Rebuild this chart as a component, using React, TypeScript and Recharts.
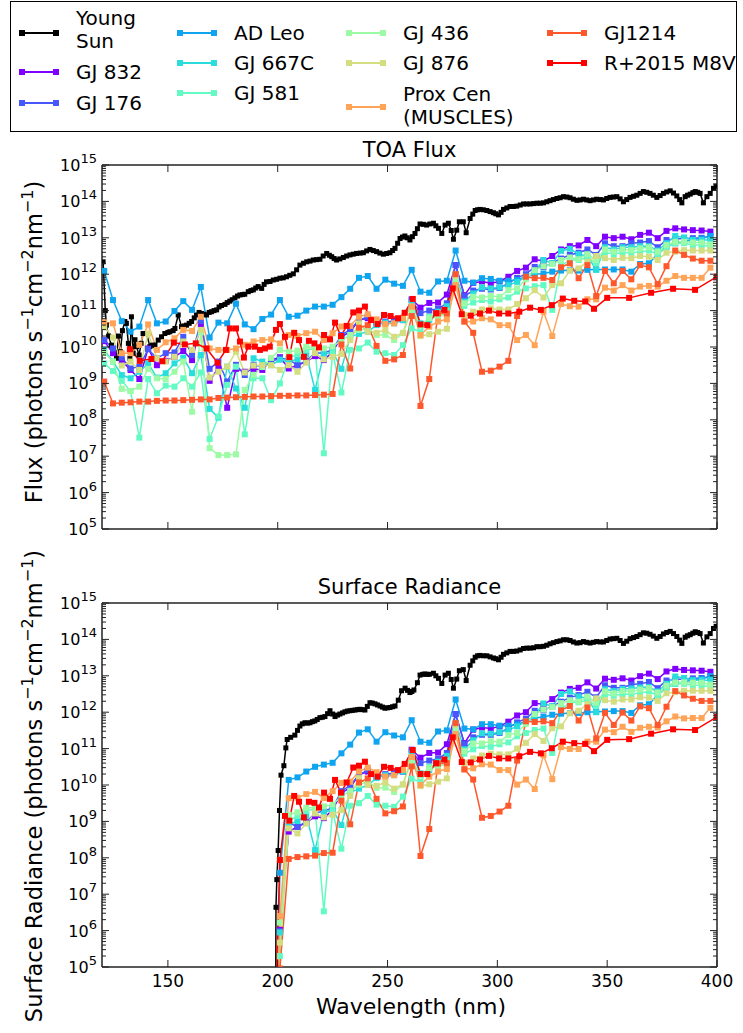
import { LineChart, Line, XAxis, YAxis } from 'recharts'

const FONT = 'DejaVu Sans, sans-serif'

// wavelength grid (nm) of the binned stellar spectra
const gridWl = [
    121, 125, 129, 133, 137, 141, 145, 149, 153, 157, 161, 165, 169, 173, 177, 181, 185, 189, 193, 197,
    201, 205, 209, 213, 217, 221, 225, 229, 233, 237, 241, 245, 249, 253, 257, 261, 265, 269, 273, 277,
    281, 285, 289, 293, 297, 301, 305, 309, 313, 317, 321, 325, 329, 333, 337, 341, 345, 349, 353, 357,
    361, 365, 369, 373, 377, 381, 385, 389, 393, 397,
]
// surface values start at the 197 nm bin
const surfWl = gridWl.slice(19)

// all fluxes below are log10(photons s^-1 cm^-2 nm^-1)
const youngSunToa: [number, number][] = [
    [120.5, 12.34], [121.5, 11.0], [122, 10.6], [123, 10.3], [124.3, 10.05], [125.5, 9.85], [126.6, 9.69],
    [127.5, 10.3], [128.4, 9.87], [129.3, 10.45], [130.4, 10.7], [131.1, 10.65], [132, 10.1], [132.7, 9.69],
    [133.4, 10.83], [134.2, 9.83], [135, 10.2], [135.7, 10.01], [136.9, 9.78], [137.8, 10.1], [138.7, 10.37],
    [140.3, 10.37], [141.8, 10.01], [143, 10.05], [144.1, 10.05], [145.6, 10.19], [147.1, 10.28], [148.6, 10.37],
    [150, 10.4], [150.9, 10.42], [152.4, 10.45], [153.2, 10.51], [154.7, 10.88], [156.2, 10.56], [157.5, 10.58],
    [158.5, 10.6], [159.7, 10.65], [160.8, 10.7], [162, 10.8], [163, 10.88], [164.2, 10.95], [165.3, 10.92],
    [166.5, 10.9], [167.6, 10.88], [168.8, 10.95], [169.9, 10.97], [171, 11.0], [172.2, 11.02], [173.3, 11.1],
    [174.4, 11.14], [176, 11.17], [177, 11.22], [178.2, 11.26], [179.3, 11.3], [180.5, 11.35], [181.7, 11.4],
    [182.8, 11.43], [184, 11.44], [185, 11.45], [186.6, 11.52], [187.8, 11.55], [188.9, 11.57], [190, 11.62],
    [191.1, 11.66], [192.7, 11.61], [193.8, 11.72], [194.9, 11.79], [196.5, 11.8], [198, 11.84], [199.5, 11.86],
    [201, 11.89], [202.5, 11.9], [204, 11.93], [205.5, 11.97], [207.1, 12.01], [208.6, 12.12], [210.1, 12.25],
    [211.7, 12.3], [213.2, 12.34], [214.7, 12.36], [216.2, 12.39], [217.7, 12.4], [219.2, 12.41], [220.7, 12.5],
    [222.3, 12.57], [223.5, 12.52], [224.6, 12.48], [225.7, 12.43], [226.8, 12.39], [228.3, 12.42], [229.9, 12.46],
    [231.4, 12.5], [232.9, 12.53], [234.4, 12.55], [235.9, 12.57], [237.5, 12.58], [239, 12.59], [240.5, 12.64],
    [242, 12.68], [243.5, 12.65], [245, 12.62], [246.5, 12.58], [248.1, 12.55], [249.6, 12.57], [251.1, 12.59],
    [252.3, 12.65], [253.4, 12.71], [254.6, 12.85], [255.7, 12.98], [256.8, 13.02], [257.9, 13.05], [259, 13.0],
    [260.2, 12.94], [261.3, 13.03], [262.5, 13.12], [263.6, 13.25], [264.8, 13.38], [266.3, 13.37], [267.8, 13.35],
    [269.3, 13.38], [270.9, 13.4], [272, 13.33], [273.2, 13.26], [274.7, 13.12], [276.2, 13.35], [277.7, 13.4],
    [279, 13.2], [280, 12.96], [281.5, 13.21], [282.7, 13.44], [284.5, 13.44], [285.8, 13.14], [287.6, 13.53],
    [288.8, 13.65], [289.9, 13.75], [291, 13.77], [292.1, 13.78], [293.6, 13.77], [295.2, 13.75], [296.7, 13.72],
    [298.2, 13.69], [299.3, 13.66], [300.5, 13.63], [301.7, 13.7], [302.8, 13.78], [304.3, 13.82], [305.8, 13.86],
    [307.3, 13.86], [308.8, 13.87], [310.4, 13.9], [311.9, 13.93], [313.4, 13.93], [314.9, 13.93], [316.5, 13.94],
    [318, 13.95], [319.5, 13.95], [321, 13.96], [322.5, 13.99], [324, 14.02], [325.5, 14.05], [327.1, 14.08],
    [328.6, 14.1], [330.1, 14.13], [331.6, 14.12], [333.1, 14.1], [334.6, 14.06], [336.2, 14.03], [337.7, 14.04],
    [339.2, 14.06], [340.7, 14.04], [342.2, 14.02], [343.7, 14.04], [345.2, 14.06], [346.8, 14.05], [348.3, 14.04],
    [349.8, 14.08], [351.3, 14.11], [352.8, 14.12], [354.4, 14.13], [355.9, 14.07], [357.4, 13.99], [358.9, 14.05],
    [360.4, 14.11], [362, 14.14], [363.5, 14.17], [365, 14.22], [366.5, 14.27], [368, 14.25], [369.5, 14.22],
    [371, 14.17], [372.6, 14.11], [374.1, 14.16], [375.6, 14.22], [377.1, 14.26], [378.7, 14.29], [380.2, 14.23],
    [381.7, 14.15], [383, 14.05], [384, 13.96], [385.5, 14.13], [386.6, 14.17], [387.8, 14.2], [389, 14.24],
    [390.1, 14.27], [391.2, 14.25], [392.3, 14.22], [393.8, 13.96], [395.4, 14.13], [396.9, 14.22], [398.4, 14.36],
    [399.6, 14.42],
]
const youngSunSurf: [number, number][] = [
    [198.8, -2], [199.2, 6.64], [199.6, 7.4], [200.2, 8.2], [200.8, 9.3], [201.5, 10.27], [202.8, 10.53],
    [203.7, 11.02], [204.3, 11.25], [205.9, 11.31], [207.8, 11.37], [209, 11.5], [210.1, 11.62], [211.2, 11.68],
    [212.4, 11.71], [213.5, 11.7], [214.7, 11.71], [215.8, 11.74], [216.9, 11.76], [218, 11.8], [219.2, 11.85],
    [220.3, 11.86], [221.5, 11.88], [222.7, 11.96], [223.8, 12.04], [225, 11.95], [226.1, 11.88], [227.2, 11.92],
    [228.3, 11.95], [229.5, 11.98], [230.6, 12.01], [231.7, 12.03], [232.9, 12.04], [234, 12.05], [235.2, 12.06],
    [236.3, 12.07], [237.4, 12.08], [238.5, 12.07], [239.7, 12.06], [240.8, 12.16], [242, 12.26], [243.1, 12.25],
    [244.3, 12.23], [245.4, 12.2], [246.6, 12.17], [247.7, 12.14], [248.8, 12.11], [250, 12.12], [251.1, 12.13],
    [252.3, 12.15], [253.4, 12.17], [254.9, 12.33], [256.4, 12.59], [258, 12.66], [259.1, 12.6], [260.2, 12.54],
    [261.1, 12.57], [262, 12.61], [263.6, 12.81], [264.8, 13.02], [266, 13.04], [267, 13.05], [268, 13.04],
    [269, 13.04], [270.9, 13.07], [272, 13.0], [273.2, 12.93], [274.7, 12.79], [276.2, 13.02], [277.7, 13.07],
    [279, 12.9], [280, 12.66], [281.5, 12.91], [282.7, 13.14], [284.5, 13.17], [285.8, 12.87], [287.6, 13.29],
    [288.8, 13.41], [289.9, 13.51], [291, 13.55], [292.1, 13.56], [293.6, 13.55], [295.2, 13.55], [296.7, 13.52],
    [298.2, 13.49], [299.3, 13.47], [300.5, 13.44], [301.7, 13.51], [302.8, 13.59], [304.3, 13.63], [305.8, 13.67],
    [307.3, 13.67], [308.8, 13.68], [310.4, 13.71], [311.9, 13.75], [313.4, 13.76], [314.9, 13.76], [316.5, 13.77],
    [318, 13.8], [319.5, 13.8], [321, 13.81], [322.5, 13.84], [324, 13.88], [325.5, 13.91], [327.1, 13.94],
    [328.6, 13.96], [330.1, 13.99], [331.6, 13.99], [333.1, 13.97], [334.6, 13.93], [336.2, 13.9], [337.7, 13.91],
    [339.2, 13.94], [340.7, 13.92], [342.2, 13.9], [343.7, 13.92], [345.2, 13.94], [346.8, 13.93], [348.3, 13.93],
    [349.8, 13.97], [351.3, 14.01], [352.8, 14.02], [354.4, 14.03], [355.9, 13.97], [357.4, 13.89], [358.9, 13.95],
    [360.4, 14.02], [362, 14.05], [363.5, 14.08], [365, 14.13], [366.5, 14.18], [368, 14.17], [369.5, 14.14],
    [371, 14.09], [372.6, 14.03], [374.1, 14.08], [375.6, 14.15], [377.1, 14.19], [378.7, 14.22], [380.2, 14.16],
    [381.7, 14.08], [383, 13.98], [384, 13.89], [385.5, 14.06], [386.6, 14.1], [387.8, 14.13], [389, 14.17],
    [390.1, 14.21], [391.2, 14.19], [392.3, 14.16], [393.8, 13.9], [395.4, 14.07], [396.9, 14.16], [398.4, 14.3],
    [399.6, 14.36],
]

const gj832Toa = [
    10.16, 9.83, 9.62, 9.37, 9.12, 9.96, 9.5, 9.62, 9.73, 9.89, 9.64, 10.62, 9.07, 9.43, 8.33, 9.4, 9.32, 9.4, 9.37, 9.64,
    9.72, 9.41, 9.5, 9.6, 9.75, 9.64, 9.87, 10.28, 10.42, 10.74, 10.79, 10.67, 10.67, 10.72, 10.74, 11.31, 11.08, 11.21, 11.22, 11.44,
    12.25, 11.42, 11.76, 11.8, 11.75, 11.8, 11.93, 12.09, 12.18, 12.41, 12.36, 12.5, 12.68, 12.77, 12.79, 12.94, 12.77, 13.03, 12.99, 13.03,
    12.96, 13.08, 13.14, 12.99, 13.19, 13.26, 13.23, 13.21, 13.2, 13.17,
]
const gj832Surf = [
    -3, 6.02, 8.72, 8.85, 8.97, 9.14, 9.09, 9.32, 9.78, 9.93, 10.28, 10.37, 10.26, 10.27, 10.34, 10.37, 10.97, 10.75, 10.88, 10.89,
    11.12, 11.95, 11.15, 11.52, 11.58, 11.55, 11.61, 11.74, 11.91, 12.0, 12.25, 12.21, 12.36, 12.54, 12.64, 12.67, 12.82, 12.65, 12.92, 12.89,
    12.93, 12.87, 12.99, 13.06, 12.91, 13.12, 13.19, 13.16, 13.15, 13.14, 13.11,
]
const gj176Toa = [
    10.19, 9.96, 9.71, 9.41, 9.46, 9.94, 9.69, 9.83, 9.85, 10.28, 9.78, 10.71, 9.4, 9.6, 9.05, 9.51, 9.23, 9.51, 9.46, 9.6,
    9.69, 9.66, 9.5, 9.62, 9.83, 9.84, 9.92, 10.33, 10.48, 10.74, 10.83, 10.63, 10.7, 10.7, 10.74, 11.29, 10.93, 11.0, 11.05, 11.2,
    12.25, 11.4, 11.55, 11.6, 11.58, 11.62, 11.75, 11.9, 12.0, 12.2, 12.2, 12.3, 12.43, 12.53, 12.59, 12.68, 12.53, 12.85, 12.77, 12.77,
    12.85, 12.87, 12.91, 12.74, 12.94, 12.97, 12.98, 12.99, 13.0, 13.03,
]
const gj176Surf = [
    -3, 5.99, 8.97, 8.85, 8.99, 9.22, 9.29, 9.37, 9.83, 9.99, 10.28, 10.41, 10.22, 10.3, 10.32, 10.37, 10.95, 10.6, 10.67, 10.72,
    10.88, 11.95, 11.13, 11.31, 11.38, 11.38, 11.43, 11.56, 11.72, 11.82, 12.04, 12.05, 12.16, 12.29, 12.4, 12.47, 12.56, 12.41, 12.74, 12.67,
    12.67, 12.76, 12.78, 12.83, 12.66, 12.87, 12.9, 12.91, 12.93, 12.94, 12.97,
]
const adLeoToa = [
    12.09, 11.29, 10.71, 10.42, 10.56, 11.29, 10.65, 10.7, 10.99, 11.26, 11.02, 11.65, 10.26, 10.67, 10.65, 11.19, 10.62, 10.49, 10.77, 10.89,
    11.29, 10.83, 10.86, 11.0, 11.11, 11.11, 11.16, 11.37, 11.6, 11.9, 11.95, 11.6, 11.85, 11.74, 11.68, 12.12, 11.52, 11.49, 11.8, 11.82,
    12.65, 11.82, 11.77, 11.89, 11.87, 11.82, 11.82, 11.84, 11.93, 12.0, 12.02, 12.07, 12.1, 12.11, 12.1, 12.12, 12.13, 12.13, 12.13, 12.13,
    12.07, 12.28, 12.3, 12.55, 12.75, 12.85, 12.9, 12.95, 12.98, 13.05,
]
const adLeoSurf = [
    -3, 7.59, 10.14, 10.21, 10.37, 10.5, 10.56, 10.61, 10.87, 11.11, 11.44, 11.53, 11.19, 11.45, 11.36, 11.31, 11.78, 11.19, 11.16, 11.47,
    11.5, 12.35, 11.55, 11.53, 11.67, 11.67, 11.63, 11.63, 11.66, 11.75, 11.84, 11.87, 11.93, 11.96, 11.98, 11.98, 12.0, 12.01, 12.02, 12.03,
    12.03, 11.98, 12.19, 12.22, 12.47, 12.68, 12.78, 12.83, 12.89, 12.92, 12.99,
]
const gj667cToa = [
    9.92, 9.6, 9.23, 9.14, 9.32, 9.55, 9.16, 9.28, 9.55, 9.71, 9.28, 9.78, 8.3, 8.06, 9.46, 8.86, 8.33, 9.69, 9.6, 9.5,
    9.65, 9.6, 9.66, 9.8, 8.82, 9.8, 9.87, 9.4, 10.28, 10.36, 10.42, 10.6, 10.67, 10.65, 10.74, 11.2, 10.65, 10.74, 10.97, 11.12,
    12.0, 11.25, 11.47, 11.64, 11.61, 11.64, 11.7, 11.79, 11.93, 12.07, 12.39, 12.3, 12.64, 12.7, 12.55, 12.5, 12.12, 12.74, 12.68, 12.74,
    12.74, 12.77, 12.77, 12.65, 12.85, 13.05, 13.01, 12.94, 12.94, 12.94,
]
const gj667cSurf = [
    -3, 5.95, 8.91, 9.01, 9.17, 8.21, 9.25, 9.32, 8.9, 9.79, 9.9, 10.0, 10.19, 10.27, 10.27, 10.37, 10.86, 10.32, 10.41, 10.64,
    10.8, 11.7, 10.98, 11.23, 11.42, 11.41, 11.45, 11.51, 11.61, 11.75, 11.91, 12.24, 12.16, 12.5, 12.57, 12.43, 12.38, 12.0, 12.63, 12.58,
    12.64, 12.65, 12.68, 12.69, 12.57, 12.78, 12.98, 12.94, 12.88, 12.88, 12.88,
]
const gj581Toa = [
    9.55, 9.34, 9.07, 8.79, 7.51, 9.12, 8.73, 8.94, 8.91, 9.14, 8.91, 9.3, 7.47, 8.09, 8.96, 9.46, 7.6, 9.14, 9.14, 8.54,
    9.0, 9.7, 9.8, 9.92, 9.96, 7.08, 9.83, 8.75, 9.92, 9.96, 10.12, 9.87, 9.83, 9.78, 10.05, 10.51, 10.42, 10.83, 10.92, 11.0,
    11.85, 11.13, 11.22, 11.29, 11.25, 11.31, 11.36, 11.52, 11.61, 11.67, 11.7, 11.02, 12.22, 12.39, 12.39, 12.45, 12.3, 12.6, 12.55, 12.6,
    12.58, 12.62, 12.65, 12.55, 12.74, 12.85, 12.85, 12.8, 12.8, 12.76,
]
const gj581Surf = [
    -3, 5.3, 9.01, 9.15, 9.29, 9.35, 6.53, 9.28, 8.25, 9.43, 9.5, 9.7, 9.46, 9.43, 9.4, 9.68, 10.17, 10.09, 10.5, 10.59,
    10.68, 11.55, 10.86, 10.98, 11.07, 11.05, 11.12, 11.17, 11.34, 11.43, 11.51, 11.55, 10.88, 12.08, 12.26, 12.27, 12.33, 12.18, 12.49, 12.45,
    12.5, 12.49, 12.53, 12.57, 12.47, 12.67, 12.78, 12.78, 12.74, 12.74, 12.7,
]
const gj436Toa = [
    9.85, 9.6, 8.85, 8.79, 8.91, 9.4, 9.14, 9.12, 9.32, 9.6, 8.22, 10.4, 7.22, 7.03, 7.03, 7.05, 8.82, 9.23, 9.45, 9.7,
    9.92, 9.87, 9.9, 10.01, 9.98, 9.96, 10.01, 10.19, 10.33, 10.47, 10.51, 10.33, 10.33, 10.19, 10.38, 11.02, 10.6, 10.79, 10.83, 10.92,
    11.85, 11.2, 11.38, 11.36, 11.4, 11.38, 11.56, 11.61, 11.86, 12.11, 12.22, 12.28, 12.39, 12.46, 12.41, 12.55, 12.39, 12.68, 12.62, 12.68,
    12.66, 12.71, 12.74, 12.62, 12.8, 12.89, 12.89, 12.87, 12.87, 12.82,
]
const gj436Surf = [
    -3, 6.22, 9.18, 9.25, 9.38, 9.37, 9.41, 9.46, 9.69, 9.84, 10.01, 10.09, 9.92, 9.93, 9.81, 10.01, 10.68, 10.27, 10.46, 10.5,
    10.6, 11.55, 10.93, 11.14, 11.14, 11.2, 11.19, 11.37, 11.43, 11.68, 11.95, 12.07, 12.14, 12.25, 12.33, 12.29, 12.43, 12.27, 12.57, 12.52,
    12.58, 12.57, 12.62, 12.66, 12.54, 12.73, 12.82, 12.82, 12.81, 12.81, 12.76,
]
const gj876Toa = [
    10.56, 10.26, 9.49, 9.6, 9.37, 10.37, 9.69, 9.6, 9.73, 10.15, 9.92, 10.47, 9.16, 9.32, 9.46, 9.87, 9.3, 9.49, 9.5, 9.5,
    9.37, 9.5, 9.32, 9.57, 9.83, 9.66, 9.73, 9.81, 10.19, 10.65, 10.42, 10.39, 10.47, 10.28, 10.39, 11.11, 10.3, 10.35, 10.42, 10.5,
    11.95, 10.88, 10.97, 11.03, 11.06, 11.03, 11.03, 11.18, 11.34, 11.56, 11.36, 11.7, 11.75, 12.1, 12.16, 12.34, 12.5, 12.44, 12.39, 12.45,
    12.44, 12.5, 12.48, 12.39, 12.59, 12.62, 12.66, 12.65, 12.65, 12.65,
]
const gj876Surf = [
    -3, 5.67, 8.81, 8.67, 8.94, 9.22, 9.11, 9.18, 9.31, 9.7, 10.19, 10.0, 9.98, 10.07, 9.9, 10.02, 10.77, 9.97, 10.02, 10.09,
    10.18, 11.65, 10.61, 10.73, 10.81, 10.86, 10.84, 10.84, 11.0, 11.16, 11.4, 11.21, 11.56, 11.61, 11.97, 12.04, 12.22, 12.38, 12.33, 12.29,
    12.35, 12.35, 12.41, 12.4, 12.31, 12.52, 12.55, 12.59, 12.59, 12.59, 12.59,
]
const proxCenToa = [
    10.68, 10.65, 9.83, 9.83, 10.06, 10.62, 9.92, 10.13, 10.24, 10.47, 10.44, 10.83, 9.96, 9.92, 9.92, 9.96, 10.06, 10.15, 10.19, 10.21,
    10.1, 10.33, 10.3, 10.38, 10.42, 10.19, 10.38, 10.56, 10.58, 10.83, 10.9, 10.76, 10.63, 10.65, 10.79, 11.11, 10.33, 10.56, 10.7, 10.76,
    11.7, 10.7, 10.7, 10.79, 10.76, 10.6, 10.6, 10.19, 10.33, 10.05, 10.97, 10.3, 11.18, 11.12, 11.11, 11.31, 11.31, 11.63, 11.55, 11.7,
    11.55, 11.66, 11.68, 11.66, 11.82, 11.95, 11.9, 11.9, 11.9, 12.18,
]
const proxCenSurf = [
    -3, 6.4, 9.64, 9.65, 9.75, 9.81, 9.64, 9.83, 10.06, 10.09, 10.37, 10.48, 10.35, 10.23, 10.27, 10.42, 10.77, 10.0, 10.23, 10.37,
    10.44, 11.4, 10.43, 10.46, 10.57, 10.56, 10.41, 10.41, 10.01, 10.15, 9.89, 10.82, 10.16, 11.04, 10.99, 10.99, 11.19, 11.19, 11.52, 11.45,
    11.6, 11.46, 11.57, 11.6, 11.58, 11.75, 11.88, 11.83, 11.84, 11.84, 12.12,
]
const gj1214Toa = [
    9.05, 8.45, 8.47, 8.48, 8.5, 8.5, 8.52, 8.53, 8.53, 8.54, 8.55, 8.56, 8.56, 8.6, 8.61, 8.62, 8.63, 8.64, 8.64, 8.65,
    8.66, 8.66, 8.67, 8.67, 8.68, 8.69, 8.71, 10.07, 9.41, 10.53, 10.6, 10.03, 9.62, 9.66, 9.78, 10.85, 8.38, 9.12, 10.92, 10.92,
    12.0, 10.7, 10.39, 9.32, 9.35, 9.46, 9.62, 10.85, 11.93, 11.89, 11.9, 11.84, 12.19, 12.3, 11.89, 12.25, 11.4, 12.09, 11.75, 12.09,
    11.86, 12.25, 12.19, 11.73, 12.22, 12.65, 12.53, 12.43, 12.37, 12.37,
]
const gj1214Surf = [
    -3, 4.96, 7.97, 8.02, 8.04, 8.06, 8.13, 8.14, 9.57, 8.92, 10.07, 10.18, 9.62, 9.22, 9.28, 9.41, 10.51, 8.05, 8.79, 10.59,
    10.6, 11.7, 10.43, 10.15, 9.1, 9.15, 9.27, 9.43, 10.67, 11.75, 11.73, 11.75, 11.7, 12.05, 12.17, 11.77, 12.13, 11.28, 11.98, 11.65,
    11.99, 11.77, 12.16, 12.11, 11.65, 12.15, 12.58, 12.46, 12.37, 12.31, 12.31,
]
const m8vToa: [number, number][] = [
    [132.7, 9.94], [137.2, 9.62], [142.5, 9.67], [147.5, 9.61], [152.7, 10.12], [157.7, 10.07], [162.7, 10.1],
    [167.6, 9.96], [172.6, 9.57], [176.4, 9.92], [178.2, 10.51], [181, 10.51], [182.8, 10.15], [184.6, 9.71],
    [186.6, 10.01], [189.6, 10.01], [191.9, 9.92], [194.2, 9.96], [196.4, 10.01], [199.2, 10.47], [201, 10.63],
    [203.3, 10.28], [205.3, 9.72], [207.5, 10.39], [209.7, 10.19], [211.9, 9.73], [214.2, 10.17], [216.7, 10.1],
    [218.8, 9.99], [221.1, 10.33], [223.8, 10.21], [226.1, 10.67], [228.8, 10.3], [231.4, 10.58], [234.4, 10.95],
    [237, 11.0], [239.7, 11.11], [242.5, 10.74], [245.5, 10.63], [248.4, 10.88], [251.4, 10.85], [254.8, 10.79],
    [257.8, 10.94], [261.5, 11.32], [265, 10.62], [268.1, 10.6], [272.1, 10.93], [275.9, 11.02], [279.7, 11.61],
    [283.8, 10.9], [287.9, 10.86], [292.1, 10.92], [296.2, 11.0], [300.8, 10.92], [305, 10.92], [310, 10.97],
    [314.9, 11.08], [319.8, 11.02], [324.8, 11.15], [329.8, 11.33], [335, 11.27], [340, 11.25], [344, 11.05],
    [350, 11.35], [360, 11.35], [370, 11.49], [380, 11.6], [390, 11.57], [400, 11.93],
]
const m8vSurf: [number, number][] = [
    [197.2, -1], [199.2, 4.4], [201, 7.94], [203.3, 9.15], [205.3, 9.02], [207.5, 9.7], [209.7, 9.54],
    [211.9, 9.11], [214.2, 9.54], [216.7, 9.51], [218.8, 9.38], [221.1, 9.79], [223.8, 9.62], [226.1, 10.14],
    [228.8, 9.79], [231.4, 10.07], [234.4, 10.48], [237, 10.53], [239.7, 10.64], [242.5, 10.3], [245.5, 10.23],
    [248.4, 10.5], [251.4, 10.47], [254.8, 10.41], [257.8, 10.58], [261.5, 10.96], [265, 10.3], [268.1, 10.3],
    [272.1, 10.6], [275.9, 10.7], [279.7, 11.31], [283.8, 10.63], [287.9, 10.62], [292.1, 10.7], [296.2, 10.8],
    [300.8, 10.73], [305, 10.73], [310, 10.79], [314.9, 10.91], [319.8, 10.87], [324.8, 11.01], [329.8, 11.19],
    [335, 11.15], [340, 11.13], [344, 10.93], [350, 11.24], [360, 11.26], [370, 11.41], [380, 11.53],
    [390, 11.51], [400, 11.87],
]

type Pt = { x: number; y: number }
const fromGrid = (wl: number[], v: number[]): Pt[] => wl.map((x, i) => ({ x, y: Math.pow(10, v[i]) }))
const fromPairs = (p: [number, number][]): Pt[] => p.map(([x, v]) => ({ x, y: Math.pow(10, v) }))

const series = [
    { name: 'Young Sun', label: ['Young', 'Sun'], color: '#000000', size: 5, toa: fromPairs(youngSunToa), surf: fromPairs(youngSunSurf) },
    { name: 'GJ 832', label: ['GJ 832'], color: '#8000ff', size: 6, toa: fromGrid(gridWl, gj832Toa), surf: fromGrid(surfWl, gj832Surf) },
    { name: 'GJ 176', label: ['GJ 176'], color: '#4757fb', size: 6, toa: fromGrid(gridWl, gj176Toa), surf: fromGrid(surfWl, gj176Surf) },
    { name: 'AD Leo', label: ['AD Leo'], color: '#0ea4f0', size: 6, toa: fromGrid(gridWl, adLeoToa), surf: fromGrid(surfWl, adLeoSurf) },
    { name: 'GJ 667C', label: ['GJ 667C'], color: '#2adddd', size: 6, toa: fromGrid(gridWl, gj667cToa), surf: fromGrid(surfWl, gj667cSurf) },
    { name: 'GJ 581', label: ['GJ 581'], color: '#63fbc3', size: 6, toa: fromGrid(gridWl, gj581Toa), surf: fromGrid(surfWl, gj581Surf) },
    { name: 'GJ 436', label: ['GJ 436'], color: '#9cfba4', size: 6, toa: fromGrid(gridWl, gj436Toa), surf: fromGrid(surfWl, gj436Surf) },
    { name: 'GJ 876', label: ['GJ 876'], color: '#d4dd80', size: 6, toa: fromGrid(gridWl, gj876Toa), surf: fromGrid(surfWl, gj876Surf) },
    { name: 'Prox Cen', label: ['Prox Cen', '(MUSCLES)'], color: '#ffa457', size: 6, toa: fromGrid(gridWl, proxCenToa), surf: fromGrid(surfWl, proxCenSurf) },
    { name: 'GJ1214', label: ['GJ1214'], color: '#ff572c', size: 6, toa: fromGrid(gridWl, gj1214Toa), surf: fromGrid(surfWl, gj1214Surf) },
    { name: 'R+2015 M8V', label: ['R+2015 M8V'], color: '#ff0000', size: 6, toa: fromPairs(m8vToa), surf: fromPairs(m8vSurf) },
]

// legend placement, same order as series: marker x, marker y, text x, text baselines
const legendPos = [
    { mx: 22, my: 33, tx: 76, base: [25, 48] },
    { mx: 22, my: 72, tx: 76, base: [79] },
    { mx: 22, my: 103, tx: 76, base: [110] },
    { mx: 180, my: 33, tx: 234, base: [40] },
    { mx: 180, my: 63, tx: 234, base: [70] },
    { mx: 180, my: 93, tx: 234, base: [100] },
    { mx: 349, my: 33, tx: 403, base: [40] },
    { mx: 349, my: 63, tx: 403, base: [70] },
    { mx: 349, my: 107, tx: 403, base: [101, 124] },
    { mx: 550, my: 33, tx: 604, base: [40] },
    { mx: 550, my: 63, tx: 604, base: [70] },
]

const xTicks = [150, 200, 250, 300, 350, 400]
const decades: number[] = []
const logTicks: number[] = []
for (let e = 5; e <= 15; e++) {
    decades.push(Math.pow(10, e))
    logTicks.push(Math.pow(10, e))
    if (e < 15) for (let m = 2; m <= 9; m++) logTicks.push(m * Math.pow(10, e))
}

const frame = { stroke: '#222', strokeWidth: 1.5 }

const YMark = (props: any) => {
    const { x, y, payload, dir } = props
    const l = Math.log10(payload.value)
    const len = Math.abs(l - Math.round(l)) < 1e-6 ? 7 : 4
    return <line x1={x} y1={y} x2={x + dir * len} y2={y} stroke="#222" strokeWidth={1} />
}

const XMark = (props: any) => {
    const { x, y, dir } = props
    return <line x1={x} y1={y} x2={x} y2={y + dir * 7} stroke="#222" strokeWidth={1} />
}

const PowerTick = (props: any) => {
    const { x, y, payload } = props
    const e = Math.round(Math.log10(payload.value))
    return (
        <text x={x} y={y + 6} textAnchor="end" fontFamily={FONT} fontSize={16} fill="#000">
            10<tspan dy={-8} fontSize={13}>{e}</tspan>
        </text>
    )
}

const WlTick = (props: any) => (
    <text x={props.x} y={props.y} dy={12} textAnchor="middle" fontFamily={FONT} fontSize={17} fill="#000">
        {props.payload.value}
    </text>
)

const squareDot = (size: number, color: string) => (p: any) => {
    if (p.cx == null || p.cy == null || !Number.isFinite(p.cy)) return <g key={`e-${p.index}`} />
    return <rect key={`d-${p.index}`} x={p.cx - size / 2} y={p.cy - size / 2} width={size} height={size} fill={color} />
}

const SpectrumPanel = ({ surface }: { surface: boolean }) => {
    const height = surface ? 473 : 545
    const margin = surface
        ? { top: 43, right: 26, bottom: 0, left: 0 }
        : { top: 165, right: 26, bottom: 16, left: 0 }
    return (
        <LineChart width={743} height={height} margin={margin}>
            <XAxis xAxisId="x" type="number" dataKey="x" domain={[120, 400]} allowDataOverflow ticks={xTicks}
                interval={0} orientation="bottom" mirror height={1} tickLine={false} tickSize={0} tickMargin={0}
                axisLine={frame} tick={(p: any) => <XMark {...p} dir={-1} />} />
            <XAxis xAxisId="xt" type="number" dataKey="x" domain={[120, 400]} allowDataOverflow ticks={xTicks}
                interval={0} orientation="top" mirror height={1} tickLine={false} tickSize={0} tickMargin={0}
                axisLine={frame} tick={(p: any) => <XMark {...p} dir={1} />} />
            {surface && (
                <XAxis xAxisId="xl" type="number" dataKey="x" domain={[120, 400]} allowDataOverflow ticks={xTicks}
                    interval={0} height={66} axisLine={false} tickLine={false} tickSize={0} tickMargin={8} tick={WlTick} />
            )}
            <YAxis yAxisId="y" scale="log" domain={[1e5, 1e15]} allowDataOverflow ticks={decades} interval={0}
                width={102} axisLine={false} tickLine={false} tickSize={0} tickMargin={5} tick={PowerTick} />
            <YAxis yAxisId="yl" scale="log" domain={[1e5, 1e15]} allowDataOverflow ticks={logTicks} interval={0}
                orientation="left" mirror width={1} tickLine={false} tickSize={0} tickMargin={0} axisLine={frame}
                tick={(p: any) => <YMark {...p} dir={1} />} />
            <YAxis yAxisId="yr" scale="log" domain={[1e5, 1e15]} allowDataOverflow ticks={logTicks} interval={0}
                orientation="right" mirror width={1} tickLine={false} tickSize={0} tickMargin={0} axisLine={frame}
                tick={(p: any) => <YMark {...p} dir={-1} />} />
            {series.map((s) => (
                <Line key={s.name} xAxisId="x" yAxisId="y" data={surface ? s.surf : s.toa} dataKey="y"
                    stroke={s.color} strokeWidth={1.5} dot={squareDot(s.size, s.color)} activeDot={false}
                    isAnimationActive={false} />
            ))}
        </LineChart>
    )
}

const UnitLabel = ({ x, y, prefix }: { x: number; y: number; prefix: string }) => (
    <text transform={`translate(${x},${y}) rotate(-90)`} textAnchor="middle" fontFamily={FONT} fontSize={22.5} fill="#000">
        {prefix + ' (photons s'}<tspan dy={-9} fontSize={16}>−1</tspan><tspan dy={9}>cm</tspan><tspan dy={-9} fontSize={16}>−2</tspan><tspan dy={9}>nm</tspan><tspan dy={-9} fontSize={16}>−1</tspan><tspan dy={9}>)</tspan>
    </text>
)

const App = () => (
    <div style={{ position: 'absolute', left: 0, top: 0, width: 743, height: 1033, background: '#fff' }}>
        <div style={{ position: 'absolute', left: 0, top: 0 }}>
            <SpectrumPanel surface={false} />
        </div>
        <div style={{ position: 'absolute', left: 0, top: 560 }}>
            <SpectrumPanel surface />
        </div>
        <svg width={743} height={1033} style={{ position: 'absolute', left: 0, top: 0, pointerEvents: 'none' }}>
            <rect x={10.5} y={1.5} width={726} height={130} fill="#fff" stroke="#000" strokeWidth={1} />
            {series.map((s, i) => {
                const p = legendPos[i]
                return (
                    <g key={s.name}>
                        <line x1={p.mx} y1={p.my} x2={p.mx + 34} y2={p.my} stroke={s.color} strokeWidth={2} />
                        <rect x={p.mx - 3} y={p.my - 3} width={6} height={6} fill={s.color} />
                        <rect x={p.mx + 31} y={p.my - 3} width={6} height={6} fill={s.color} />
                        {s.label.map((t, j) => (
                            <text key={t} x={p.tx} y={p.base[j]} fontFamily={FONT} fontSize={20} fill="#000">{t}</text>
                        ))}
                    </g>
                )
            })}
            <text x={409.5} y={157} textAnchor="middle" fontFamily={FONT} fontSize={21} fill="#000">TOA Flux</text>
            <text x={409.5} y={594} textAnchor="middle" fontFamily={FONT} fontSize={21} fill="#000">Surface Radiance</text>
            <text x={411} y={1014} textAnchor="middle" fontFamily={FONT} fontSize={22} fill="#000">Wavelength (nm)</text>
            <UnitLabel x={42} y={342} prefix="Flux" />
            <UnitLabel x={42} y={786} prefix="Surface Radiance" />
        </svg>
    </div>
)

export default App
